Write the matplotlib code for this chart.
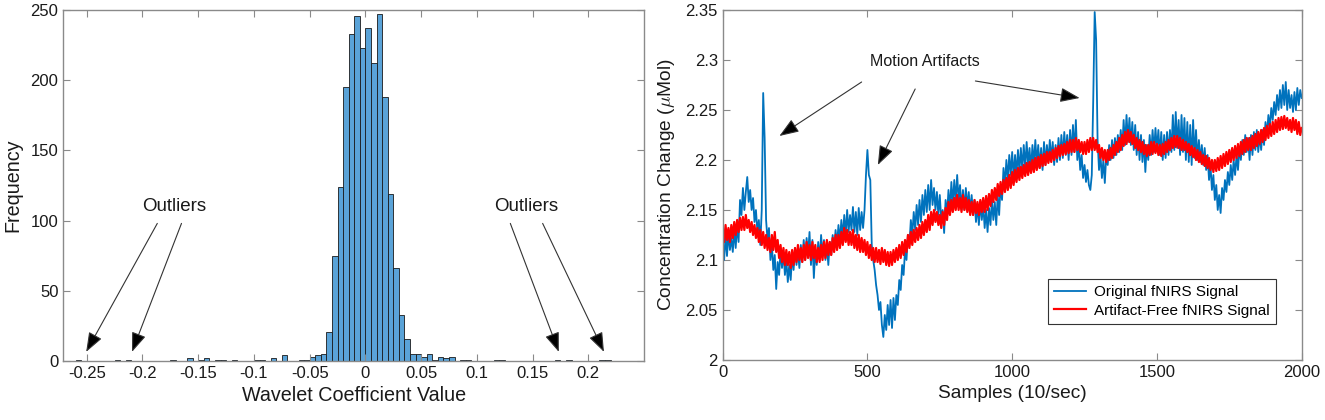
import numpy as np
import matplotlib
matplotlib.use('Agg')
import matplotlib.pyplot as plt

plt.rcParams['font.family'] = ['Liberation Sans', 'DejaVu Sans']
plt.rcParams['mathtext.fontset'] = 'cm'

# --- histogram of wavelet coefficients (bin width 0.005) ---
hist_left = [-0.26, -0.225, -0.215, -0.175, -0.16, -0.15, -0.145, -0.135, -0.13, -0.12,
             -0.1, -0.095, -0.085, -0.075, -0.06, -0.055, -0.05, -0.045, -0.04, -0.035,
             -0.03, -0.025, -0.02, -0.015, -0.01, -0.005, 0.0, 0.005, 0.01, 0.015,
             0.02, 0.025, 0.03, 0.035, 0.04, 0.045, 0.05, 0.055, 0.06, 0.065,
             0.07, 0.075, 0.085, 0.09, 0.115, 0.12, 0.17, 0.18, 0.21, 0.215]
hist_counts = [1, 1, 1, 1, 2, 1, 2, 1, 1, 1,
               1, 1, 2, 4, 1, 1, 3, 4, 5, 21,
               75, 124, 195, 233, 246, 223, 237, 212, 247, 188,
               119, 66, 33, 16, 5, 5, 3, 5, 1, 3,
               2, 3, 1, 1, 1, 1, 1, 1, 1, 1]
bin_width = 0.005

# --- fNIRS signals, one value every 5 samples (0..2000) ---
sample_step = 5
original_signal = [
    2.118, 2.100, 2.125, 2.104, 2.128, 2.110, 2.122, 2.108, 2.130, 2.112,
    2.135, 2.118, 2.160, 2.145, 2.172, 2.150, 2.168, 2.183, 2.158, 2.170,
    2.150, 2.162, 2.138, 2.150, 2.128, 2.140, 2.115, 2.150, 2.267, 2.222,
    2.140, 2.120, 2.132, 2.100, 2.115, 2.090, 2.105, 2.071, 2.098, 2.085,
    2.110, 2.092, 2.108, 2.085, 2.100, 2.078, 2.095, 2.080, 2.105, 2.090,
    2.112, 2.095, 2.110, 2.092, 2.115, 2.098, 2.120, 2.100, 2.122, 2.105,
    2.128, 2.095, 2.120, 2.082, 2.110, 2.095, 2.118, 2.100, 2.125, 2.105,
    2.120, 2.100, 2.115, 2.095, 2.118, 2.105, 2.125, 2.110, 2.130, 2.115,
    2.135, 2.118, 2.140, 2.122, 2.145, 2.125, 2.150, 2.128, 2.145, 2.130,
    2.153, 2.128, 2.148, 2.125, 2.152, 2.130, 2.148, 2.132, 2.150, 2.185,
    2.210, 2.185, 2.180, 2.115, 2.100, 2.090, 2.075, 2.065, 2.050, 2.058,
    2.035, 2.023, 2.045, 2.030, 2.055, 2.035, 2.060, 2.032, 2.062, 2.040,
    2.065, 2.055, 2.080, 2.070, 2.095, 2.085, 2.110, 2.100, 2.125, 2.115,
    2.140, 2.125, 2.148, 2.130, 2.155, 2.135, 2.160, 2.138, 2.165, 2.145,
    2.170, 2.148, 2.175, 2.150, 2.180, 2.155, 2.172, 2.150, 2.168, 2.145,
    2.165, 2.140, 2.150, 2.127, 2.160, 2.145, 2.170, 2.150, 2.178, 2.155,
    2.180, 2.158, 2.185, 2.160, 2.175, 2.150, 2.170, 2.150, 2.172, 2.152,
    2.168, 2.148, 2.165, 2.145, 2.160, 2.138, 2.155, 2.135, 2.158, 2.140,
    2.155, 2.132, 2.150, 2.128, 2.152, 2.135, 2.160, 2.140, 2.158, 2.135,
    2.165, 2.145, 2.175, 2.160, 2.192, 2.175, 2.200, 2.180, 2.205, 2.185,
    2.208, 2.182, 2.205, 2.185, 2.210, 2.188, 2.212, 2.190, 2.215, 2.192,
    2.218, 2.195, 2.212, 2.190, 2.215, 2.195, 2.220, 2.196, 2.215, 2.192,
    2.212, 2.190, 2.218, 2.195, 2.215, 2.198, 2.220, 2.200, 2.218, 2.195,
    2.215, 2.198, 2.222, 2.200, 2.225, 2.202, 2.228, 2.205, 2.225, 2.200,
    2.230, 2.205, 2.235, 2.208, 2.240, 2.200, 2.215, 2.190, 2.205, 2.182,
    2.195, 2.178, 2.190, 2.175, 2.170, 2.185, 2.260, 2.348, 2.320, 2.220,
    2.190, 2.205, 2.182, 2.200, 2.177, 2.205, 2.195, 2.215, 2.200, 2.220,
    2.202, 2.222, 2.205, 2.225, 2.208, 2.230, 2.210, 2.240, 2.215, 2.245,
    2.218, 2.242, 2.215, 2.238, 2.210, 2.235, 2.205, 2.228, 2.200, 2.225,
    2.198, 2.220, 2.188, 2.215, 2.200, 2.225, 2.205, 2.230, 2.208, 2.232,
    2.210, 2.230, 2.205, 2.228, 2.200, 2.225, 2.202, 2.228, 2.205, 2.230,
    2.208, 2.245, 2.210, 2.248, 2.212, 2.240, 2.205, 2.245, 2.208, 2.242,
    2.200, 2.238, 2.198, 2.235, 2.195, 2.240, 2.202, 2.230, 2.200, 2.220,
    2.198, 2.215, 2.195, 2.212, 2.190, 2.205, 2.180, 2.195, 2.170, 2.185,
    2.160, 2.175, 2.150, 2.165, 2.147, 2.172, 2.160, 2.180, 2.168, 2.188,
    2.175, 2.195, 2.180, 2.200, 2.185, 2.205, 2.190, 2.212, 2.200, 2.220,
    2.205, 2.225, 2.208, 2.222, 2.200, 2.225, 2.205, 2.228, 2.210, 2.230,
    2.208, 2.225, 2.210, 2.230, 2.215, 2.238, 2.225, 2.245, 2.232, 2.252,
    2.240, 2.258, 2.245, 2.265, 2.250, 2.270, 2.252, 2.275, 2.255, 2.278,
    2.250, 2.270, 2.252, 2.265, 2.248, 2.268, 2.250, 2.272, 2.255, 2.270,
    2.262]

clean_signal = [
    2.130, 2.118, 2.135, 2.120, 2.132, 2.118, 2.135, 2.122, 2.138, 2.125,
    2.140, 2.128, 2.142, 2.130, 2.143, 2.130, 2.145, 2.132, 2.140, 2.128,
    2.138, 2.125, 2.135, 2.122, 2.132, 2.118, 2.130, 2.115, 2.128, 2.112,
    2.125, 2.110, 2.122, 2.108, 2.125, 2.110, 2.128, 2.108, 2.120, 2.102,
    2.115, 2.098, 2.112, 2.095, 2.110, 2.095, 2.108, 2.092, 2.110, 2.095,
    2.112, 2.098, 2.115, 2.100, 2.112, 2.098, 2.115, 2.100, 2.118, 2.102,
    2.115, 2.100, 2.118, 2.102, 2.115, 2.098, 2.112, 2.098, 2.115, 2.100,
    2.118, 2.102, 2.120, 2.105, 2.118, 2.105, 2.122, 2.108, 2.125, 2.110,
    2.125, 2.112, 2.128, 2.115, 2.132, 2.118, 2.130, 2.115, 2.128, 2.115,
    2.130, 2.112, 2.125, 2.110, 2.125, 2.108, 2.122, 2.108, 2.120, 2.105,
    2.118, 2.102, 2.115, 2.100, 2.112, 2.098, 2.112, 2.098, 2.110, 2.096,
    2.112, 2.098, 2.110, 2.095, 2.108, 2.094, 2.108, 2.095, 2.110, 2.098,
    2.112, 2.100, 2.115, 2.102, 2.118, 2.105, 2.120, 2.108, 2.125, 2.112,
    2.128, 2.115, 2.130, 2.118, 2.132, 2.120, 2.135, 2.122, 2.138, 2.125,
    2.140, 2.128, 2.145, 2.130, 2.148, 2.135, 2.150, 2.138, 2.148, 2.135,
    2.145, 2.132, 2.148, 2.135, 2.152, 2.140, 2.158, 2.145, 2.160, 2.148,
    2.162, 2.150, 2.165, 2.150, 2.162, 2.148, 2.165, 2.150, 2.162, 2.148,
    2.160, 2.145, 2.158, 2.145, 2.160, 2.147, 2.158, 2.145, 2.160, 2.148,
    2.162, 2.148, 2.164, 2.150, 2.166, 2.154, 2.170, 2.158, 2.172, 2.160,
    2.176, 2.164, 2.178, 2.166, 2.180, 2.168, 2.182, 2.170, 2.185, 2.172,
    2.188, 2.175, 2.190, 2.178, 2.192, 2.180, 2.193, 2.182, 2.195, 2.184,
    2.197, 2.185, 2.198, 2.187, 2.200, 2.188, 2.202, 2.190, 2.203, 2.192,
    2.205, 2.194, 2.206, 2.195, 2.208, 2.197, 2.208, 2.198, 2.210, 2.200,
    2.212, 2.202, 2.214, 2.204, 2.215, 2.205, 2.216, 2.206, 2.218, 2.207,
    2.220, 2.208, 2.220, 2.208, 2.222, 2.210, 2.220, 2.208, 2.218, 2.206,
    2.218, 2.206, 2.220, 2.208, 2.222, 2.210, 2.222, 2.210, 2.220, 2.208,
    2.215, 2.202, 2.212, 2.200, 2.210, 2.198, 2.210, 2.200, 2.212, 2.202,
    2.215, 2.205, 2.218, 2.208, 2.222, 2.210, 2.225, 2.214, 2.228, 2.216,
    2.230, 2.218, 2.228, 2.216, 2.225, 2.212, 2.222, 2.210, 2.220, 2.208,
    2.218, 2.206, 2.215, 2.204, 2.215, 2.205, 2.218, 2.206, 2.218, 2.207,
    2.216, 2.205, 2.215, 2.204, 2.216, 2.206, 2.218, 2.208, 2.220, 2.210,
    2.222, 2.212, 2.224, 2.213, 2.224, 2.212, 2.222, 2.210, 2.220, 2.210,
    2.218, 2.208, 2.216, 2.205, 2.214, 2.203, 2.212, 2.200, 2.210, 2.198,
    2.208, 2.196, 2.205, 2.194, 2.204, 2.192, 2.202, 2.190, 2.200, 2.188,
    2.200, 2.189, 2.202, 2.190, 2.204, 2.192, 2.206, 2.194, 2.208, 2.196,
    2.210, 2.198, 2.212, 2.200, 2.214, 2.202, 2.216, 2.204, 2.218, 2.206,
    2.220, 2.208, 2.222, 2.210, 2.222, 2.210, 2.224, 2.212, 2.226, 2.214,
    2.228, 2.216, 2.230, 2.218, 2.232, 2.220, 2.234, 2.222, 2.236, 2.224,
    2.238, 2.226, 2.240, 2.228, 2.242, 2.230, 2.243, 2.231, 2.244, 2.232,
    2.242, 2.230, 2.240, 2.228, 2.242, 2.230, 2.240, 2.226, 2.238, 2.225,
    2.232]

samples = np.arange(len(original_signal)) * sample_step

AXIS_GRAY = '#8a8a8a'
TEXT = '#1a1a1a'


def style_axes(ax):
    for sp in ax.spines.values():
        sp.set_color(AXIS_GRAY)
        sp.set_linewidth(1.0)
    ax.tick_params(direction='in', top=True, right=True, length=5, width=0.8,
                   color=AXIS_GRAY, labelcolor=TEXT, labelsize=12)


# MATLAB-like arrows: thin dark line, solid black head
arrow_kw = dict(arrowstyle='-|>,head_length=1.2,head_width=0.45', fc='black',
                ec='#333333', lw=0.8, shrinkA=0, shrinkB=0)

fig = plt.figure(figsize=(13.25, 4.2), dpi=100)

# ---------- left: histogram ----------
ax1 = fig.add_axes([0.0478, 0.1405, 0.4383, 0.8357])
ax1.bar(hist_left, hist_counts, width=bin_width, align='edge', color='#5aa3d8',
        edgecolor='#1a1a1a', linewidth=0.6)
ax1.set_xlim(-0.271, 0.25)
ax1.set_ylim(0, 250)
ax1.set_xticks([-0.25, -0.2, -0.15, -0.1, -0.05, 0, 0.05, 0.1, 0.15, 0.2])
ax1.set_xticklabels(['-0.25', '-0.2', '-0.15', '-0.1', '-0.05', '0', '0.05', '0.1', '0.15', '0.2'])
ax1.set_yticks([0, 50, 100, 150, 200, 250])
style_axes(ax1)
ax1.set_xlabel('Wavelet Coefficient Value', fontsize=14.2, color=TEXT)
ax1.set_ylabel('Frequency', fontsize=14.2, color=TEXT, labelpad=6)

ax1.text(-0.172, 110, 'Outliers', ha='center', va='center', fontsize=13.5, color=TEXT)
ax1.annotate('', xy=(-0.2505, 6.5), xytext=(-0.1867, 98), arrowprops=arrow_kw)
ax1.annotate('', xy=(-0.2094, 6.5), xytext=(-0.165, 98), arrowprops=arrow_kw)
ax1.text(0.1445, 110, 'Outliers', ha='center', va='center', fontsize=13.5, color=TEXT)
ax1.annotate('', xy=(0.1735, 6.5), xytext=(0.130, 98), arrowprops=arrow_kw)
ax1.annotate('', xy=(0.214, 6.5), xytext=(0.159, 98), arrowprops=arrow_kw)

# ---------- right: signals ----------
ax2 = fig.add_axes([0.5454, 0.1429, 0.4370, 0.8333])
ax2.plot(samples, original_signal, color='#0072BD', lw=1.3, label='Original fNIRS Signal')
ax2.plot(samples, clean_signal, color='#FF0000', lw=1.6, label='Artifact-Free fNIRS Signal')
ax2.set_xlim(0, 2000)
ax2.set_ylim(2, 2.35)
ax2.set_xticks([0, 500, 1000, 1500, 2000])
ax2.set_yticks([2, 2.05, 2.1, 2.15, 2.2, 2.25, 2.3, 2.35])
ax2.set_yticklabels(['2', '2.05', '2.1', '2.15', '2.2', '2.25', '2.3', '2.35'])
style_axes(ax2)
ax2.set_xlabel('Samples (10/sec)', fontsize=13.8, color=TEXT)
ax2.set_ylabel(r'Concentration Change ($\mu$Mol)', fontsize=13.8, color=TEXT, labelpad=6)

ax2.text(697, 2.298, 'Motion Artifacts', ha='center', va='center', fontsize=11.5, color=TEXT)
ax2.annotate('', xy=(196, 2.224), xytext=(480, 2.278), arrowprops=arrow_kw)
ax2.annotate('', xy=(536, 2.195), xytext=(665, 2.271), arrowprops=arrow_kw)
ax2.annotate('', xy=(1233, 2.262), xytext=(873, 2.279), arrowprops=arrow_kw)

leg = ax2.legend(loc='lower right', bbox_to_anchor=(0.955, 0.103), fontsize=11,
                 fancybox=False, framealpha=1, handlelength=2.1, borderpad=0.4,
                 labelspacing=0.3, handletextpad=0.5, borderaxespad=0)
leg.get_frame().set_edgecolor('#333333')
leg.get_frame().set_linewidth(0.8)

fig.savefig('out.png', dpi=100)
